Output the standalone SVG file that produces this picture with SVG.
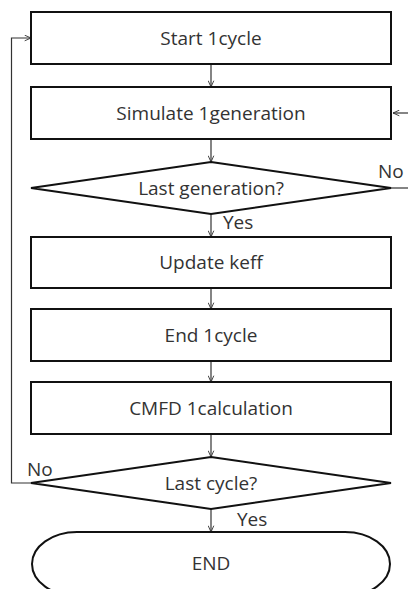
<svg xmlns="http://www.w3.org/2000/svg" width="408" height="589" viewBox="0 0 408 589">
  <defs>
    <marker id="arrow" viewBox="0 0 10 10" refX="10" refY="5" markerWidth="7" markerHeight="7" orient="auto" markerUnits="userSpaceOnUse">
      <path d="M1,1 L10,5 L1,9" fill="none" stroke="#333" stroke-width="1.3"/>
    </marker>
    <style>
      .shape { fill: #fff; stroke: #111; stroke-width: 2; }
      .conn { fill: none; stroke: #333; stroke-width: 1.2; }
      .label { font-family: "Open Sans", "Noto Sans", sans-serif; font-size: 19px; fill: #333; }
      .center { text-anchor: middle; }
    </style>
  </defs>
  <rect width="408" height="589" fill="#fff"/>

  <!-- connectors -->
  <g id="connectors">
    <line class="conn" x1="211" y1="64" x2="211" y2="87" marker-end="url(#arrow)"/>
    <line class="conn" x1="211" y1="139" x2="211" y2="162" marker-end="url(#arrow)"/>
    <line class="conn" x1="211" y1="214" x2="211" y2="237" marker-end="url(#arrow)"/>
    <line class="conn" x1="211" y1="288" x2="211" y2="309" marker-end="url(#arrow)"/>
    <line class="conn" x1="211" y1="361" x2="211" y2="382" marker-end="url(#arrow)"/>
    <line class="conn" x1="211" y1="434" x2="211" y2="457" marker-end="url(#arrow)"/>
    <line class="conn" x1="211" y1="509" x2="211" y2="532" marker-end="url(#arrow)"/>
    <!-- loop back from "Last cycle?" -->
    <polyline class="conn" points="31,483 11.5,483 11.5,38 31,38" marker-end="url(#arrow)"/>
    <!-- loop back from "Last generation?" -->
    <line class="conn" x1="391" y1="188" x2="408" y2="188"/>
    <line class="conn" x1="408" y1="113" x2="393" y2="113" marker-end="url(#arrow)"/>
    <text class="label" x="378" y="178">No</text>
    <text class="label" x="223" y="229">Yes</text>
    <text class="label" x="27" y="476">No</text>
    <text class="label" x="237" y="526">Yes</text>
  </g>

  <g id="start-cycle">
    <rect class="shape" x="31" y="12" width="360" height="52"/>
    <text class="label center" x="211" y="45">Start 1cycle</text>
  </g>
  <g id="simulate-generation">
    <rect class="shape" x="31" y="87" width="360" height="52"/>
    <text class="label center" x="211" y="120">Simulate 1generation</text>
  </g>
  <g id="last-generation">
    <polygon class="shape" points="211,162 391,188 211,214 31,188"/>
    <text class="label center" x="211" y="195">Last generation?</text>
  </g>
  <g id="update-keff">
    <rect class="shape" x="31" y="237" width="360" height="51"/>
    <text class="label center" x="211" y="269">Update keff</text>
  </g>
  <g id="end-cycle">
    <rect class="shape" x="31" y="309" width="360" height="52"/>
    <text class="label center" x="211" y="342">End 1cycle</text>
  </g>
  <g id="cmfd-calculation">
    <rect class="shape" x="31" y="382" width="360" height="52"/>
    <text class="label center" x="211" y="415">CMFD 1calculation</text>
  </g>
  <g id="last-cycle">
    <polygon class="shape" points="211,457 391,483 211,509 31,483"/>
    <text class="label center" x="211" y="490">Last cycle?</text>
  </g>
  <g id="end">
    <rect class="shape" x="32" y="532" width="358" height="64" rx="45" ry="32"/>
    <text class="label center" x="211" y="570">END</text>
  </g>
</svg>
